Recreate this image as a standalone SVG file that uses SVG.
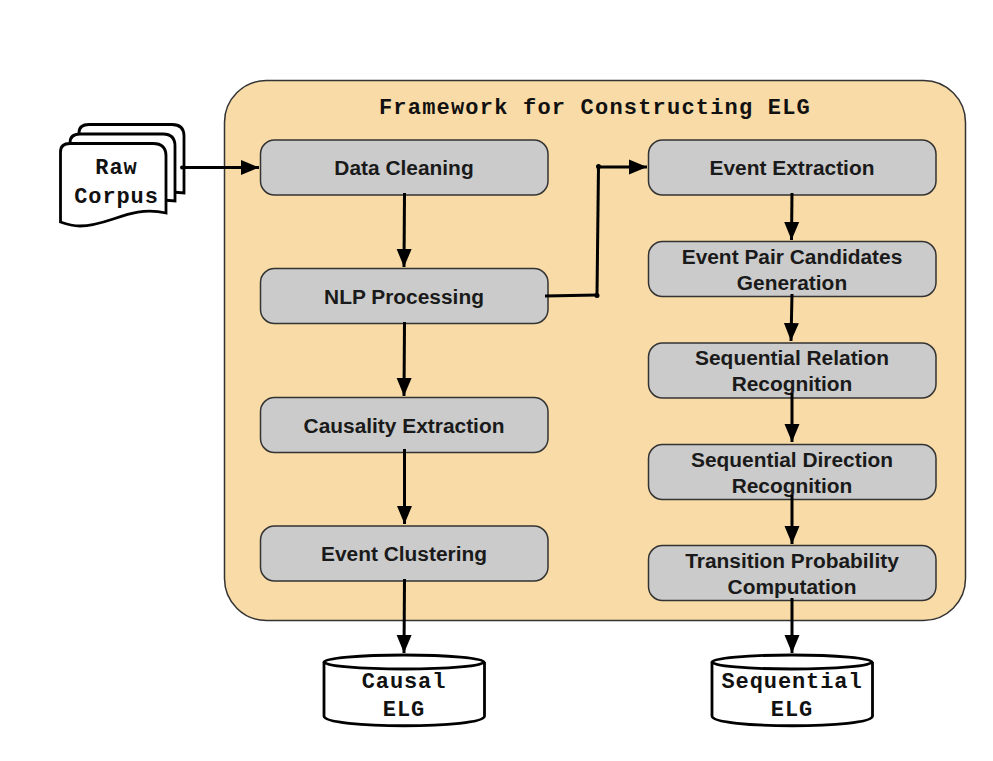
<svg xmlns="http://www.w3.org/2000/svg" width="993" height="761" viewBox="0 0 993 761">
<style>
.box{fill:#cbcbcb;stroke:#333;stroke-width:1.5}
.t{font-family:"Liberation Sans",Arial,sans-serif;font-size:20.9px;font-weight:bold;fill:#1a1a1a;text-anchor:middle}
.m{font-family:"Liberation Mono","Courier New",monospace;font-size:22px;letter-spacing:.9px;font-weight:bold;fill:#111;text-anchor:middle}
.s{fill:#fff;stroke:#000;stroke-width:2.8}
.c{fill:none;stroke:#000;stroke-width:3}
.d{fill:#000}
</style>
<defs><marker id="a" markerUnits="userSpaceOnUse" markerWidth="20" markerHeight="16" refX="18" refY="8" orient="auto"><path d="M0,0.500L18,8L0,15.500Z" fill="#000"/></marker></defs>
<rect width="993" height="761" fill="#fff"/>
<g id="frame"><rect x="224.500" y="80.500" width="741" height="540" rx="42" fill="#f8dba6" stroke="#333" stroke-width="1.500"/><text class="m" x="595" y="114" style="font-size:22px;letter-spacing:1.2px">Framework for Constructing ELG</text></g>
<g id="raw-corpus">
<path class="s" d="M79,133Q79,124.500 89,124.500L172,124.500Q184,124.500 184,136L184,193L172,192L79,192Z"/>
<path class="s" d="M70,143Q70,134 80,134L163,134Q175,134 175,146L175,201L163,200L70,200Z"/>
<path class="s" d="M60.500,152Q60.500,143.500 70,143.500L153,143.500Q166,143.500 166,156L166,213C130,205 110,226 80,226C72,226 66,224 60.500,222Z"/>
<text class="m" x="116.500" y="174">Raw</text><text class="m" x="116.500" y="203">Corpus</text></g>
<g id="data-cleaning"><rect class="box" x="260.500" y="140" width="287.500" height="55" rx="14"/><text class="t" x="404" y="175">Data Cleaning</text></g>
<g id="nlp-processing"><rect class="box" x="260.500" y="268.500" width="287.500" height="55" rx="14"/><text class="t" x="404" y="304">NLP Processing</text></g>
<g id="causality-extraction"><rect class="box" x="260.500" y="397.500" width="287.500" height="55" rx="14"/><text class="t" x="404" y="433">Causality Extraction</text></g>
<g id="event-clustering"><rect class="box" x="260.500" y="526" width="287.500" height="55" rx="14"/><text class="t" x="404" y="561">Event Clustering</text></g>
<g id="event-extraction"><rect class="box" x="648.500" y="140" width="287.500" height="55" rx="14"/><text class="t" x="792" y="175">Event Extraction</text></g>
<g id="event-pair"><rect class="box" x="648.500" y="241.500" width="287.500" height="55" rx="14"/><text class="t" x="792" y="264">Event Pair Candidates</text><text class="t" x="792" y="290">Generation</text></g>
<g id="sequential-relation"><rect class="box" x="648.500" y="343" width="287.500" height="55" rx="14"/><text class="t" x="792" y="365">Sequential Relation</text><text class="t" x="792" y="391">Recognition</text></g>
<g id="sequential-direction"><rect class="box" x="648.500" y="444.500" width="287.500" height="55" rx="14"/><text class="t" x="792" y="467">Sequential Direction</text><text class="t" x="792" y="493">Recognition</text></g>
<g id="transition"><rect class="box" x="648.500" y="545.500" width="287.500" height="55" rx="14"/><text class="t" x="792" y="568">Transition Probability</text><text class="t" x="792" y="594">Computation</text></g>
<g id="causal-elg"><path class="s" d="M324,662V716C324,729 484.500,729 484.500,716V662"/><ellipse class="s" cx="404" cy="662" rx="80" ry="7"/><text class="m" x="404" y="688">Causal</text><text class="m" x="404" y="716">ELG</text></g>
<g id="sequential-elg"><path class="s" d="M712,662V716C712,729 872.500,729 872.500,716V662"/><ellipse class="s" cx="792" cy="662" rx="80" ry="7"/><text class="m" x="792" y="688">Sequential</text><text class="m" x="792" y="716">ELG</text></g>
<g id="connectors">
<path class="c" marker-end="url(#a)" d="M182,167.500H259"/>
<path class="c" marker-end="url(#a)" d="M404.500,193L404,267"/>
<path class="c" marker-end="url(#a)" d="M404.500,322L404,396"/>
<path class="c" marker-end="url(#a)" d="M404.500,449L404.500,524"/>
<path class="c" marker-end="url(#a)" d="M404.500,579L404,653"/>
<path class="c" d="M545,296L597,295"/>
<path class="c" d="M597,295L598.500,166"/>
<path class="c" marker-end="url(#a)" d="M598,167L647,167"/>
<circle class="d" cx="182" cy="167.500" r="2"/>
<circle class="d" cx="597" cy="295.500" r="2.500"/>
<circle class="d" cx="598.500" cy="166.500" r="2.500"/>
<path class="c" marker-end="url(#a)" d="M792,193L791.500,240"/>
<path class="c" marker-end="url(#a)" d="M792,294L791,341"/>
<path class="c" marker-end="url(#a)" d="M792,393V442"/>
<path class="c" marker-end="url(#a)" d="M792,495V544"/>
<path class="c" marker-end="url(#a)" d="M792,598V653"/>
</g>
</svg>
